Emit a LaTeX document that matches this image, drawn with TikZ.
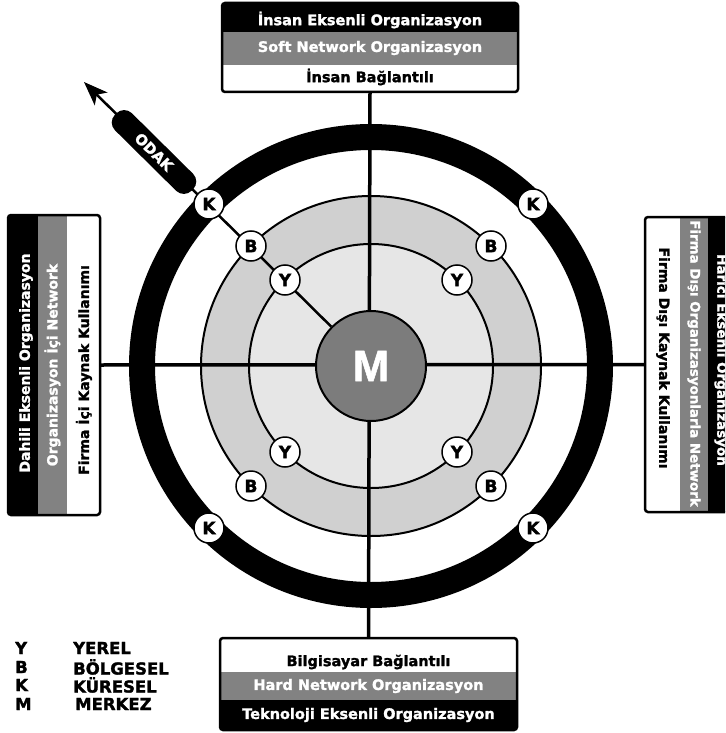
\documentclass[tikz,border=0pt]{standalone}
\usepackage{fontspec}
\setmainfont{DejaVu Sans}
\newfontfamily\hv{DejaVu Sans Bold}[FakeBold=1.6]
\newfontfamily\arialfont{Liberation Sans Bold}[FakeBold=1.2]
\usetikzlibrary{arrows.meta}
\definecolor{bandgray}{HTML}{828282}
\definecolor{ringgray}{HTML}{D0D0D0}
\definecolor{innergray}{HTML}{E6E6E6}
\definecolor{mgray}{HTML}{7C7C7C}
\begin{document}
\begin{tikzpicture}[x=1pt,y=-1pt,
  frame/.style={draw, line width=2.5pt, rounded corners=3pt, inner sep=0pt, outer sep=0pt},
  boxtxt/.style={font=\hv\fontsize{14.5}{16}\selectfont, inner sep=0pt},
  sidetxt/.style={font=\hv\fontsize{14}{16}\selectfont, inner sep=0pt},
  axisline/.style={line width=3.5pt},
  lbl/.style={circle, draw, fill=white, line width=1.5pt, minimum size=30pt, inner sep=0pt, font=\hv\fontsize{17}{17}\selectfont},
  legtxt/.style={anchor=west, inner sep=0pt, font=\hv\fontsize{16.5}{16.5}\selectfont}]
\useasboundingbox (0,0) rectangle (725,733);
\clip (0,0) rectangle (725,733);
\fill[white] (0,0) rectangle (725,733);

% ---------- top box
\begin{scope}
\clip[rounded corners=3pt] (222,3) rectangle (518,92);
\fill[black] (222,3) rectangle (518,32);
\fill[bandgray] (222,32) rectangle (518,65);
\fill[white] (222,65) rectangle (518,92);
\end{scope}
\node[frame, minimum width=296pt, minimum height=89pt] (topbox) at (370,47.5) {};
\node[boxtxt, text=white] (t1) at (370,20) {İnsan Eksenli Organizasyon};
\node[boxtxt, text=white] (t2) at (370,48) {Soft Network Organizasyon};
\node[boxtxt] (t3) at (370,77) {İnsan Bağlantılı};

% ---------- bottom box
\begin{scope}
\clip[rounded corners=3pt] (220,638) rectangle (517,730);
\fill[white] (220,638) rectangle (517,672);
\fill[bandgray] (220,672) rectangle (517,700);
\fill[black] (220,700) rectangle (517,730);
\end{scope}
\node[frame, minimum width=297pt, minimum height=92pt] (bottombox) at (368.5,684) {};
\node[boxtxt] (b1) at (368.5,662) {Bilgisayar Bağlantılı};
\node[boxtxt, text=white] (b2) at (368.5,686) {Hard Network Organizasyon};
\node[boxtxt, text=white] (b3) at (368.5,715) {Teknoloji Eksenli Organizasyon};

% ---------- left box
\begin{scope}
\clip[rounded corners=3pt] (8,215) rectangle (100,515);
\fill[black] (8,215) rectangle (38,515);
\fill[bandgray] (38,215) rectangle (67,515);
\fill[white] (67,215) rectangle (100,515);
\end{scope}
\node[frame, minimum width=92pt, minimum height=300pt] (leftbox) at (54,365) {};
\node[sidetxt, text=white, rotate=90] (l1) at (26,363) {Dahili Eksenli Organizasyon};
\node[sidetxt, text=white, rotate=90] (l2) at (52.5,365) {Organizasyon İçi Network};
\node[sidetxt, rotate=90] (l3) at (84,370) {Firma İçi Kaynak Kullanımı};

% ---------- right box
\begin{scope}
\clip[rounded corners=3pt] (645,217) rectangle (740,512);
\fill[white] (645,217) rectangle (680,512);
\fill[bandgray] (680,217) rectangle (708,512);
\fill[black] (708,217) rectangle (740,512);
\end{scope}
\node[frame, minimum width=95pt, minimum height=295pt] (rightbox) at (692.5,364.5) {};
\node[sidetxt, rotate=-90] (r1) at (663,358) {Firma Dışı Kaynak Kullanımı};
\node[sidetxt, text=white, rotate=-90, font=\hv\fontsize{13.4}{15}\selectfont] (r2) at (694,363.5) {Firma Dışı Organizasyonlarla Network};
\node[sidetxt, text=white, rotate=-90, font=\hv\fontsize{13.5}{15}\selectfont] (r3) at (721,360) {Harici Eksenli Organizasyon};

% ---------- rings
\coordinate (C) at (371,366);
\draw[line width=26pt] (C) circle[radius=229pt];
\draw[line width=2pt, fill=ringgray] (C) circle[radius=170pt];
\draw[line width=2pt, fill=innergray] (C) circle[radius=122pt];

% ---------- axes
\draw[axisline] (leftbox.east) -- (rightbox.west);
\draw[axisline] (topbox.south) -- (bottombox.north);

% ---------- centre
\node[circle, draw, line width=2pt, fill=mgray, minimum size=110pt, inner sep=0pt,
      text=white, font=\arialfont\fontsize{44}{44}\selectfont] (M) at (C) {M};

% ---------- focus arrow
\coordinate (tip) at (84,82);
\draw[line width=2.5pt, -{Stealth[length=24pt,width=18pt,inset=6pt]}] (M) -- (tip);
\node[fill=black, rounded corners=11pt, minimum width=108pt, minimum height=24pt,
      inner sep=0pt, rotate=-44.7, text=white,
      font=\hv\fontsize{14.5}{14.5}\selectfont] (odak) at (154,152) {ODAK};

% ---------- labels
\node[lbl] (k1) at (209,204) {K};
\node[lbl] (k2) at (533,204) {K};
\node[lbl] (k3) at (209,528) {K};
\node[lbl] (k4) at (533,528) {K};
\node[lbl] (bb1) at (251,246) {B};
\node[lbl] (bb2) at (491,246) {B};
\node[lbl] (bb3) at (251,486) {B};
\node[lbl] (bb4) at (491,486) {B};
\node[lbl] (y1) at (285,280) {Y};
\node[lbl] (y2) at (457,280) {Y};
\node[lbl] (y3) at (285,452) {Y};
\node[lbl] (y4) at (457,452) {Y};

% ---------- legend
\node[legtxt] (lg1) at (15,648) {Y};
\node[legtxt] (lg2) at (15,667) {B};
\node[legtxt] (lg3) at (15,685) {K};
\node[legtxt] (lg4) at (15,704) {M};
\node[legtxt] (lw1) at (73,648) {YEREL};
\node[legtxt] (lw2) at (73,667) {BÖLGESEL};
\node[legtxt] (lw3) at (73,685) {KÜRESEL};
\node[legtxt] (lw4) at (75,704) {MERKEZ};
\end{tikzpicture}
\end{document}
